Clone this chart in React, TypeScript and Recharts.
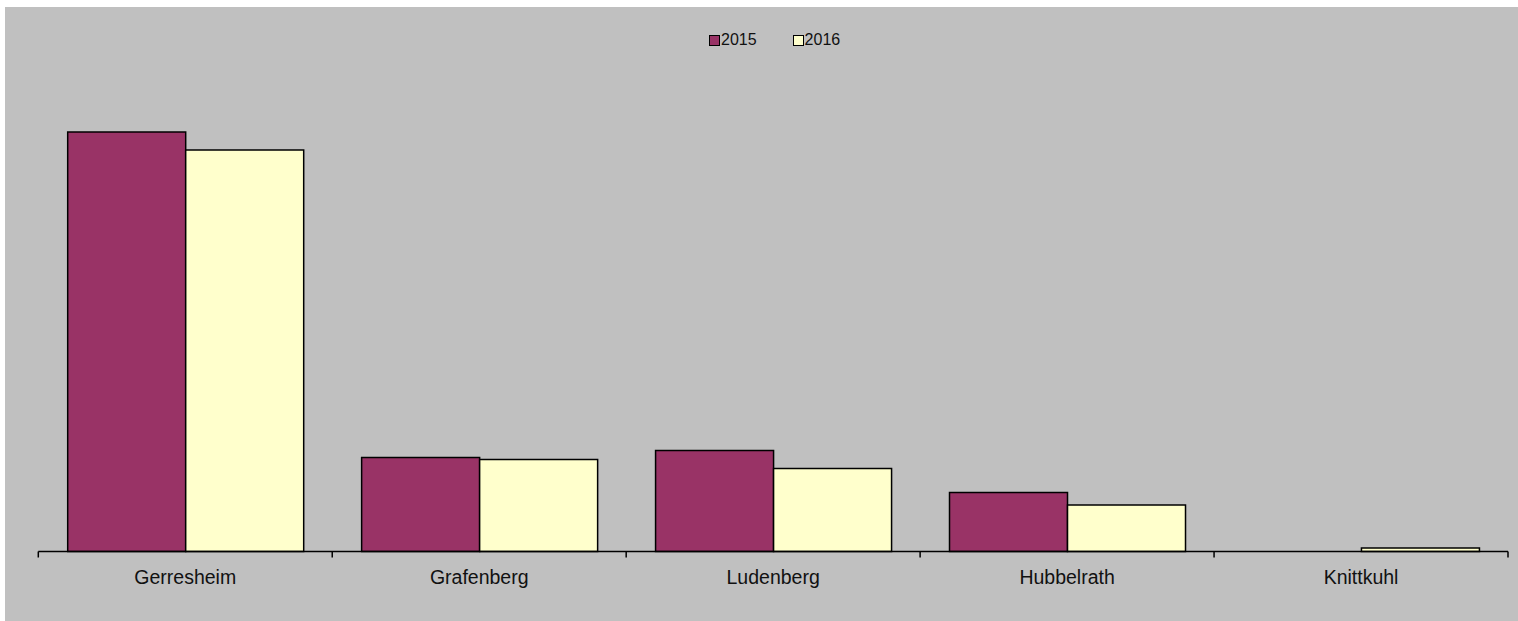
import React from 'react';
import { BarChart, Bar, XAxis, YAxis } from 'recharts';

const categories = ['Gerresheim', 'Grafenberg', 'Ludenberg', 'Hubbelrath', 'Knittkuhl'];
const values2015 = [419.5, 94, 101, 59, 0];
const values2016 = [401.5, 92, 83, 46.5, 3.5];
const seriesNames = ['2015', '2016'];
const seriesColors = ['#993366', '#FFFFCC'];

const data = categories.map((name, i) => ({ name, v2015: values2015[i], v2016: values2016[i] }));

const FONT = '"Liberation Sans", Arial, sans-serif';
const TICK_SIZE = 6;
const TICK_MARGIN = 13;

const CategoryTick = (props: any) => {
  const { x, y, payload, index, visibleTicksCount } = props;
  const off = payload && typeof payload.offset === 'number' ? payload.offset : 0;
  const axisY = y - TICK_SIZE - TICK_MARGIN;
  const isLast = index === visibleTicksCount - 1;
  return (
    <g>
      <line x1={x - off} x2={x - off} y1={axisY} y2={axisY + TICK_SIZE} stroke="#000" strokeWidth={1.5} />
      {isLast && <line x1={x + off} x2={x + off} y1={axisY} y2={axisY + TICK_SIZE} stroke="#000" strokeWidth={1.5} />}
      <text x={x} y={y} dy="0.71em" textAnchor="middle" fill="#111" fontSize={19.5} fontFamily={FONT}>
        {payload.value}
      </text>
    </g>
  );
};

export default function App() {
  return (
    <div style={{ position: 'absolute', left: 0, top: 0, width: 1518, height: 621, background: '#fff', fontFamily: FONT }}>
      <div style={{ position: 'absolute', left: 5, top: 7, width: 1513, height: 614, background: '#C0C0C0' }} />
      <div style={{ position: 'absolute', left: 0, top: 0 }}>
        <BarChart
          width={1518}
          height={621}
          data={data}
          margin={{ top: 101.5, right: 10, bottom: 68.5, left: 38.3 }}
          barCategoryGap="10%"
          barGap={0}
        >
          <YAxis hide domain={[0, 450]} />
          <XAxis
            dataKey="name"
            height={1}
            axisLine={{ stroke: '#000', strokeWidth: 1.5 }}
            tickLine={false}
            tickSize={TICK_SIZE}
            tickMargin={TICK_MARGIN}
            tick={<CategoryTick />}
            interval={0}
          />
          <Bar dataKey="v2015" name={seriesNames[0]} fill={seriesColors[0]} stroke="#000" strokeWidth={1.5} isAnimationActive={false} />
          <Bar dataKey="v2016" name={seriesNames[1]} fill={seriesColors[1]} stroke="#000" strokeWidth={1.5} isAnimationActive={false} />
        </BarChart>
      </div>
      <div style={{ position: 'absolute', left: 709, top: 32, display: 'flex', gap: 36, alignItems: 'center' }}>
        {seriesNames.map((s, i) => (
          <div key={s} style={{ display: 'flex', alignItems: 'center', height: 16 }}>
            <div style={{ width: 9, height: 9, border: '1px solid #000', background: seriesColors[i], marginRight: 1 }} />
            <span style={{ fontSize: 16, lineHeight: '16px', color: '#111' }}>{s}</span>
          </div>
        ))}
      </div>
    </div>
  );
}
